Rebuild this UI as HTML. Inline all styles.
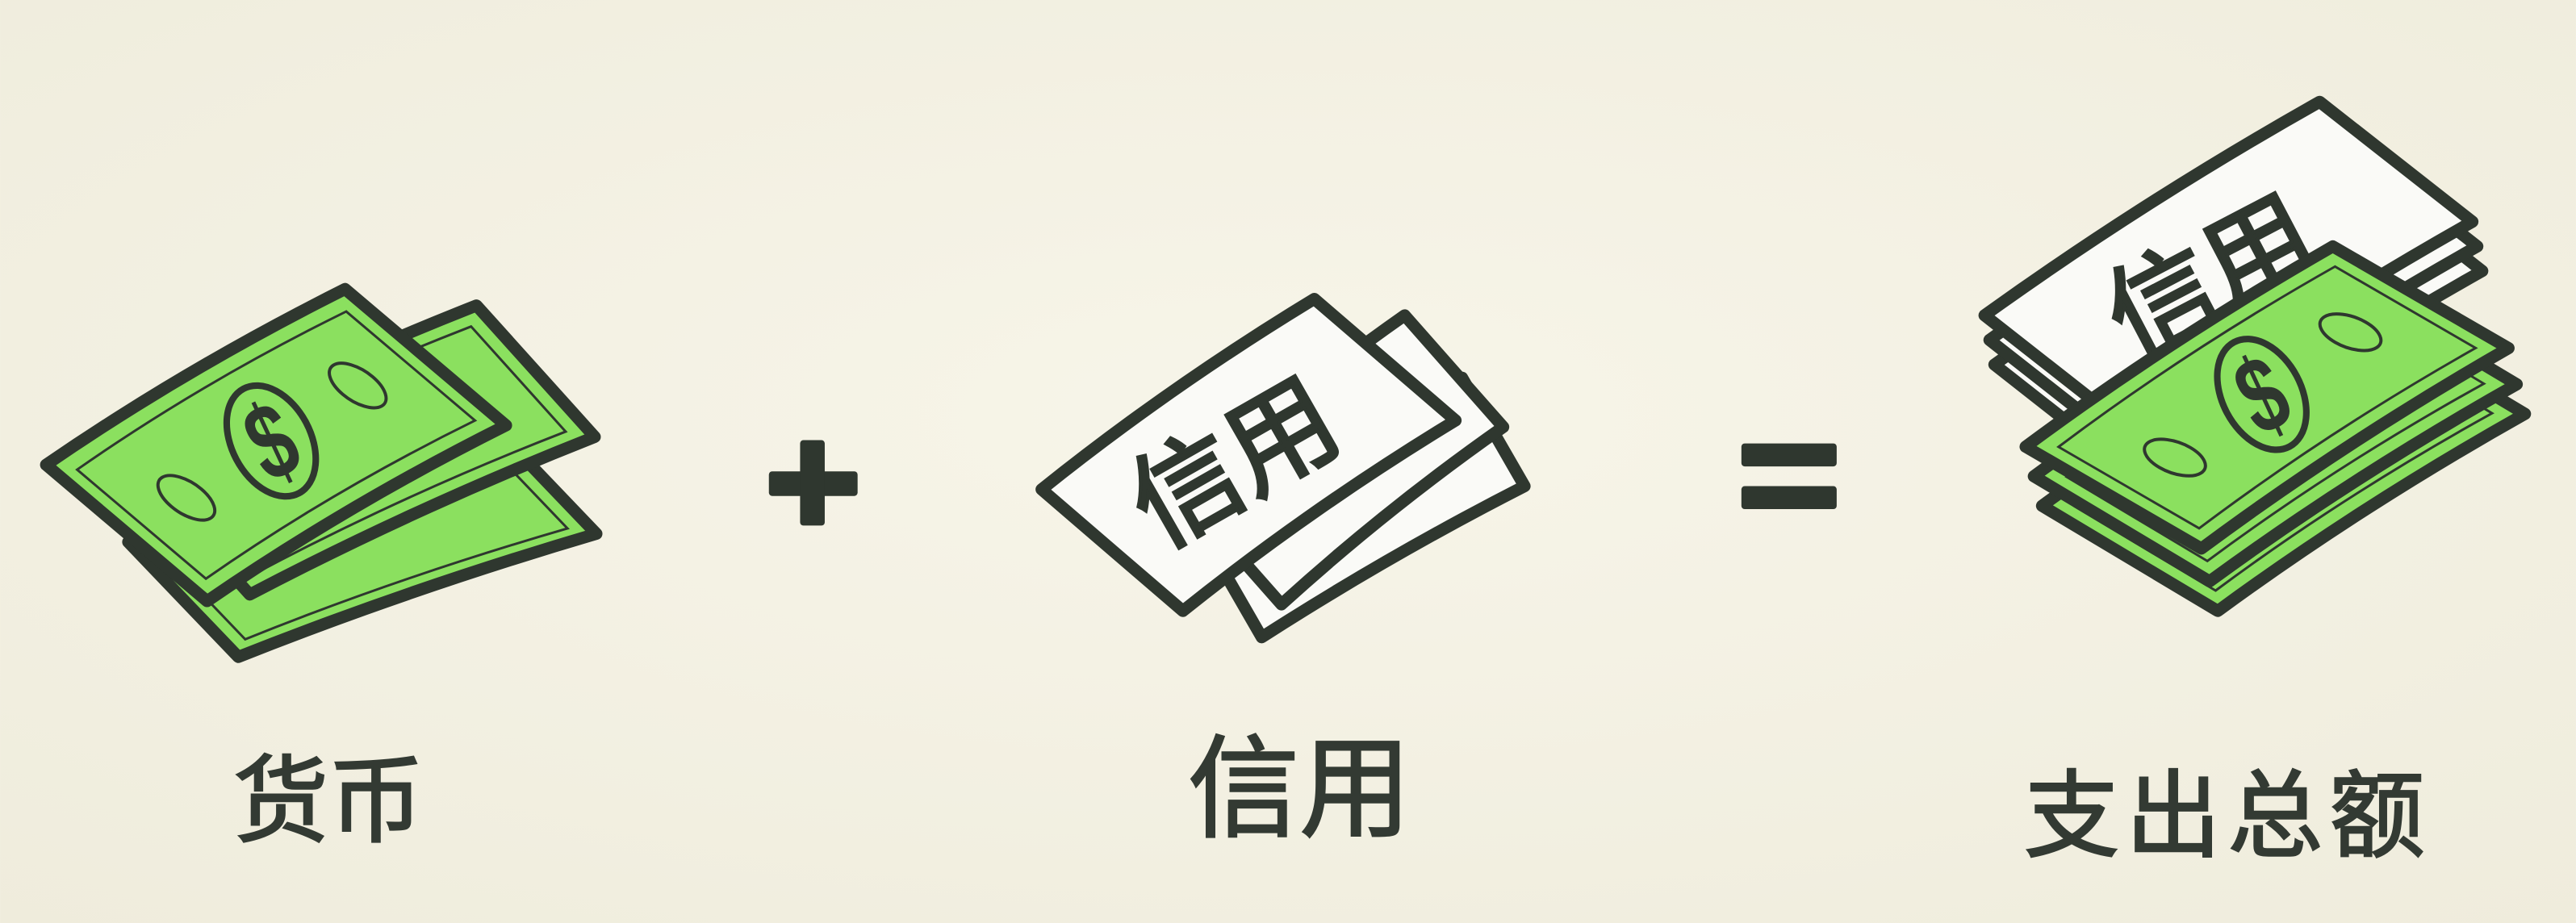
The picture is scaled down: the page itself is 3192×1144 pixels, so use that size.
<!DOCTYPE html>
<html><head><meta charset="utf-8"><style>
html,body{margin:0;padding:0;background:#f6f4e8;}
svg{display:block}
text{font-family:"Liberation Sans","Noto Sans CJK SC",sans-serif;}
</style></head><body>
<svg id="s" width="3192" height="1144" viewBox="0 0 1568 562" xmlns="http://www.w3.org/2000/svg">
<defs>
<radialGradient id="bg" cx="50%" cy="45%" r="75%"><stop offset="0" stop-color="#f7f5e9"/><stop offset="1" stop-color="#efecdc"/></radialGradient>
</defs>
<rect width="1568" height="562" fill="url(#bg)"/>
<g id="g1"></g>
<g id="g2"></g>
<g id="g3"></g>
<g fill="#2f372f">
<rect x="468" y="287" width="54" height="15" rx="2"/><rect x="487" y="268" width="15" height="52" rx="2"/>
</g>
<g fill="#2f372f">
<rect x="1060" y="270" width="58" height="14" rx="2"/><rect x="1060" y="296" width="58" height="14" rx="2"/>
</g>
<text x="200" y="508" font-size="58" text-anchor="middle" fill="#333a33" stroke="#333a33" stroke-width="1.2">货币</text>
<text x="791" y="504" font-size="68" text-anchor="middle" fill="#333a33" stroke="#333a33" stroke-width="1.2">信用</text>
<text x="1356" y="517" font-size="58" text-anchor="middle" fill="#333a33" stroke="#333a33" stroke-width="1.2" letter-spacing="4">支出总额</text>
</svg>
<script>
const NS="http://www.w3.org/2000/svg";
const DARK="#2f372f", GREEN="#8be05f", PAPER="#fafaf7";
function mk(tag,attrs,parent){const e=document.createElementNS(NS,tag);for(const k in attrs)e.setAttribute(k,attrs[k]);parent.appendChild(e);return e;}
function pt(p0,p1,p3,u,v){return [p0[0]+(p1[0]-p0[0])*u+(p3[0]-p0[0])*v, p0[1]+(p1[1]-p0[1])*u+(p3[1]-p0[1])*v];}
function bill(parent,p0,p1,p3,kind,front,name){
  const outer=mk('g',{},parent);
  
  
  const g=mk('g',{transform:`matrix(${p1[0]-p0[0]},${p1[1]-p0[1]},${p3[0]-p0[0]},${p3[1]-p0[1]},${p0[0]},${p0[1]})`},outer);
  const fill=kind==='green'?GREEN:PAPER;
  mk('path',{d:'M0,0 Q0.5,-0.06 1,0 L1,1 Q0.5,0.94 0,1 Z',fill:fill,stroke:DARK,'stroke-width':15,'stroke-linejoin':'round','vector-effect':'non-scaling-stroke'},g);
  const ang=Math.atan2(p1[1]-p0[1],p1[0]-p0[0])*180/Math.PI;
  if(kind==='green'){
    mk('path',{d:'M0.05,0.1 Q0.5,0.04 0.95,0.1 L0.95,0.9 Q0.5,0.84 0.05,0.9 Z',fill:'none',stroke:DARK,'stroke-width':3,'vector-effect':'non-scaling-stroke'},g);
    if(front){
      const c=pt(p0,p1,p3,0.5,0.47);
      mk('ellipse',{cx:c[0],cy:c[1],rx:24,ry:36,transform:`rotate(-28 ${c[0]} ${c[1]})`,fill:'none',stroke:DARK,'stroke-width':4},outer);
      mk('ellipse',{cx:0.2,cy:0.5,rx:0.05,ry:0.15,fill:'none',stroke:DARK,'stroke-width':4,'vector-effect':'non-scaling-stroke'},g);
      mk('ellipse',{cx:0.8,cy:0.45,rx:0.05,ry:0.15,fill:'none',stroke:DARK,'stroke-width':4,'vector-effect':'non-scaling-stroke'},g);
      const t=mk('text',{x:0,y:0,'font-size':66,'font-weight':'bold',fill:DARK,'text-anchor':'middle',transform:`translate(${c[0]},${c[1]}) rotate(-25) scale(0.7,1) translate(0,23)`},outer);
      t.textContent='$';
    }
  } else if(front){
    const c=pt(p0,p1,p3,0.45,0.5);
    const t=mk('text',{x:0,y:0,'font-size':66,fill:DARK,stroke:DARK,'stroke-width':2,'text-anchor':'middle',transform:`translate(${c[0]},${c[1]}) rotate(${ang*0.85}) translate(0,22)`},outer);
    t.textContent='信用';
  }
}
const g1=document.getElementById('g1'),g2=document.getElementById('g2'),g3=document.getElementById('g3');
bill(g1,[78,330],[296,255],[145,400],'green',false,'currency-bill-back');
bill(g1,[80,282],[290,186],[152,362],'green',false,'currency-bill-middle');
bill(g1,[28,283],[210,176],[126,366],'green',true,'currency-bill-front');
bill(g2,[730,322],[890,230],[768,388],'paper',false,'credit-note-back');
bill(g2,[720,300],[855,192],[780,368],'paper',false,'credit-note-middle');
bill(g2,[634,298],[800,182],[720,372],'paper',true,'credit-note-front');
bill(g3,[1214,222],[1418,92],[1307,295],'paper',false,'total-note-3');
bill(g3,[1211,207],[1415,77],[1304,280],'paper',false,'total-note-2');
bill(g3,[1208,192],[1412,62],[1301,265],'paper',true,'total-note-1');
bill(g3,[1243,308],[1430,188],[1350,372],'green',false,'total-bill-3');
bill(g3,[1238,290],[1425,170],[1345,354],'green',false,'total-bill-2');
bill(g3,[1233,272],[1420,150],[1340,334],'green',true,'total-bill-front');
</script>
</body></html>
